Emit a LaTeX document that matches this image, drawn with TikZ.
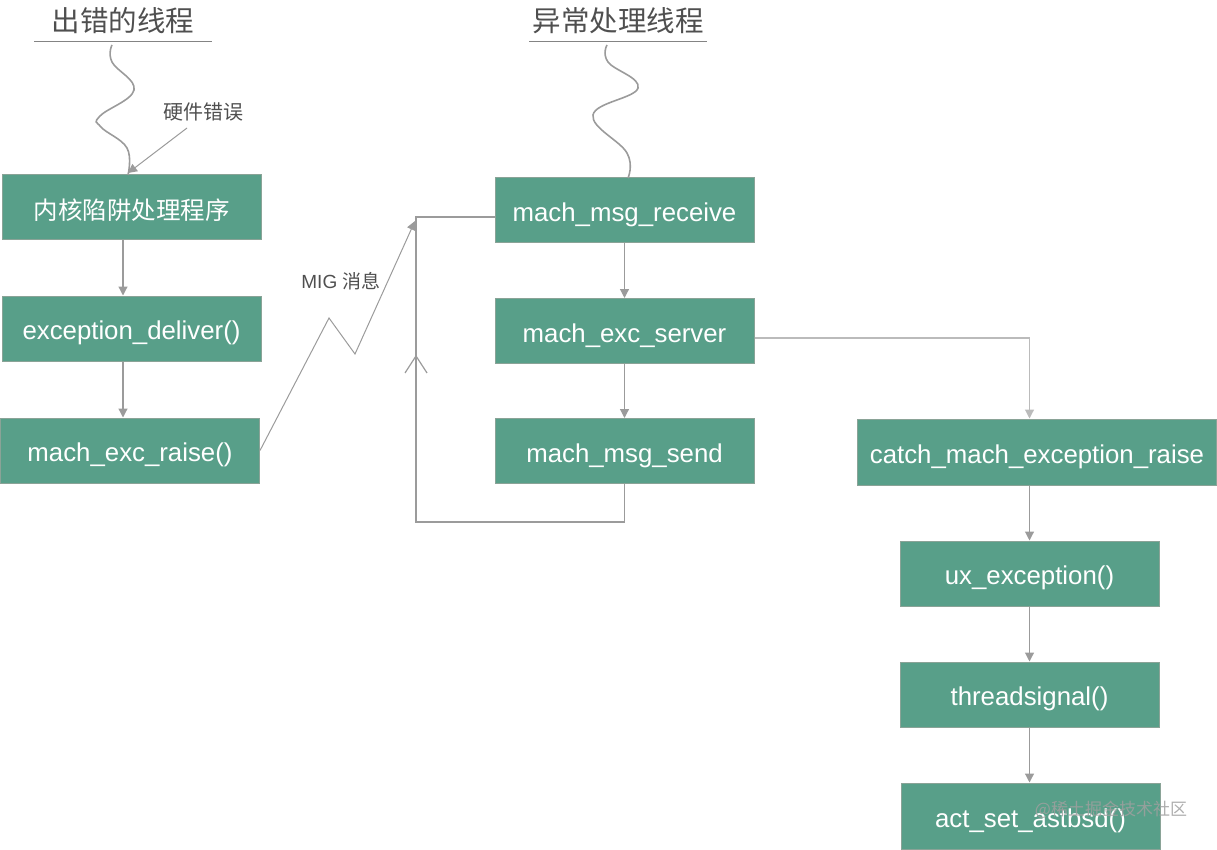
\documentclass[tikz,border=0pt]{standalone}
\usepackage{fontspec}
\setmainfont{Liberation Sans}
\newfontfamily\cjk{Noto Sans CJK SC}
\usetikzlibrary{arrows.meta,decorations.markings}
\definecolor{boxgreen}{HTML}{589F89}
\definecolor{boxedge}{HTML}{8AA397}
\definecolor{linegray}{HTML}{9B9B9B}
\definecolor{lightgray}{HTML}{BBBBBB}
\definecolor{titlegray}{HTML}{4F4F4F}
\tikzset{
    fnbox/.style={draw=boxedge, line width=1pt, fill=boxgreen, text=white,
        minimum width=259pt, minimum height=65pt, inner sep=0pt,
        text height=22pt, text depth=0pt,
        font=\fontsize{25.8}{28}\selectfont},
    cjkbox/.style={fnbox, text height=25pt, font=\cjk\fontsize{24.5}{27}\selectfont},
    flow/.style={draw=linegray, line width=1.2pt, -{Triangle[length=9pt,width=9pt]}},
    loopline/.style={draw=linegray, line width=1.2pt},
    wave/.style={draw=linegray, line width=1.6pt},
    title/.style={text=titlegray, font=\cjk\fontsize{28.5}{30}\selectfont},
    note/.style={text=titlegray, font=\fontsize{19}{21}\selectfont},
}
\begin{document}
\begin{tikzpicture}[x=1pt, y=-1pt]
    \useasboundingbox (0,0) rectangle (1217,850);
    % Titles
    \node[title] (t1) at (123,21) {出错的线程};
    \node[title] (t2) at (618,21) {异常处理线程};
    \draw[titlegray!70, line width=1pt] (34,42) -- (212,42);
    \draw[titlegray!70, line width=1pt] (529,42) -- (707,42);
    % Faulting thread
    \node[cjkbox] (trap) at (131.5,207.5) {内核陷阱处理程序};
    \node[fnbox] (deliver) at (131.5,328.5) {exception\_deliver()};
    \node[fnbox] (raise) at (130,450.5) {mach\_exc\_raise()};
    % Handler thread
    \node[fnbox] (receive) at (624.5,210.5) {mach\_msg\_receive};
    \node[fnbox] (server) at (624.5,331) {mach\_exc\_server};
    \node[fnbox] (send) at (624.5,451) {mach\_msg\_send};
    \node[fnbox, minimum width=359pt, minimum height=66pt] (catch) at (1037,452) {catch\_mach\_exception\_raise};
    \node[fnbox] (ux) at (1029.5,573.5) {ux\_exception()};
    \node[fnbox] (tsig) at (1029.5,694.5) {threadsignal()};
    \node[fnbox, minimum height=66pt] (astbsd) at (1030.5,816) {act\_set\_astbsd()};
    % Wavy thread lines
    \draw[wave] plot[smooth, tension=0.7] coordinates
        {(112,45) (112,62) (134,90) (100,116) (101,127) (127,148) (128,175)};
    \draw[wave] plot[smooth, tension=0.7] coordinates
        {(607,45) (608,62) (638,88) (593,115) (627,153) (628,178)};
    % Hardware error
    \node[note, font=\cjk\fontsize{20}{22}\selectfont] (hwerr) at (203,112) {硬件错误};
    \coordinate (hwfrom) at (187,128);
    \coordinate (hwto) at (128,173);
    \draw[flow, line width=1pt] (hwfrom) -- (hwto);
    % Calls
    \coordinate (lx) at (123,0);
    \draw[flow] (trap.south -| lx) -- (deliver.north -| lx);
    \draw[flow] (deliver.south -| lx) -- (raise.north -| lx);
    \draw[flow] (receive.south) -- (server.north);
    \draw[flow] (server.south) -- (send.north);
    \draw[flow, draw=lightgray] ([yshift=-7pt]server.east) -| (catch.north -| ux.north);
    \draw[flow] (catch.south -| ux.north) -- (ux.north);
    \draw[flow] (ux.south) -- (tsig.north);
    \draw[flow] (tsig.south) -- (astbsd.north -| tsig.south);
    % MIG message
    \node[note] (mig) at (341,281) {MIG {\cjk 消息}};
    \draw[flow, line width=1pt] (raise.east) -- (329,318) -- (355,354) -- (415,221);
    % Loop back to receive
    \coordinate (loopbot) at (416,522);
    \coordinate (looptop) at (416,217);
    \draw[loopline] (send.south) |- (loopbot) -- (looptop) -- (looptop -| receive.west);
    \path[decorate, decoration={markings, mark=at position 0.548 with
        {\arrow{Straight Barb[length=17pt, width=22pt, line width=1.2pt, color=linegray]}}}]
        (loopbot) -- (looptop);
    % Watermark
    \node[text=gray!75, opacity=0.85, font=\cjk\fontsize{17}{18}\selectfont] (wm) at (1111,810) {@稀土掘金技术社区};
\end{tikzpicture}
\end{document}
